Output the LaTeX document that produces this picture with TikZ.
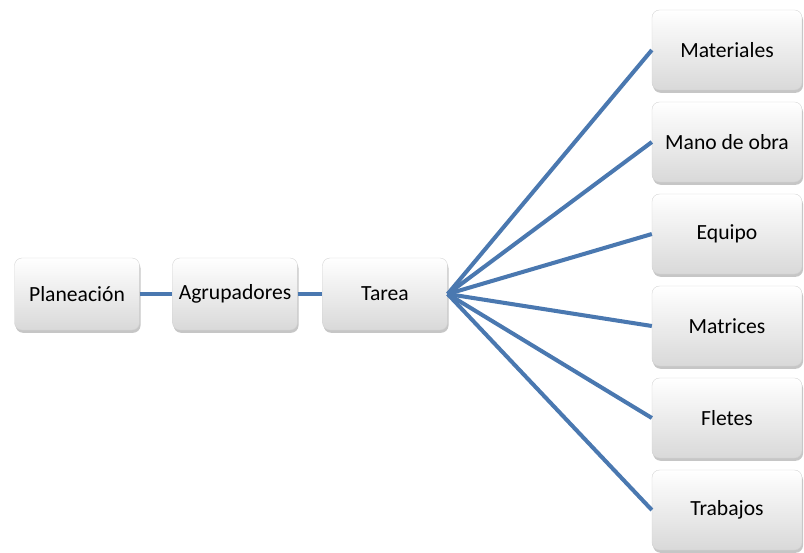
\documentclass[tikz,border=0pt]{standalone}
\usepackage{fontspec}
\setmainfont{Carlito}
\usepackage{tikz}
\usetikzlibrary{positioning,shadows,calc}

\definecolor{linkblue}{HTML}{4A78B0}

\begin{document}
\begin{tikzpicture}[
    x=0.02cm,
    y=-0.02cm,
    font=\fontsize{12.3}{14}\selectfont,
    box/.style={
        draw=gray!35,
        rounded corners=1.5mm,
        very thin,
        minimum width=2.5cm,
        minimum height=1.44cm,
        align=center,
        top color=white,
        bottom color=gray!30,
        drop shadow={shadow xshift=0.6pt, shadow yshift=-1.6pt, opacity=0.45}
    },
    item/.style={
        box,
        minimum width=3.0cm,
        minimum height=1.6cm
    },
    link/.style={draw=linkblue, line width=2.3pt}
]
\useasboundingbox (0,0) rectangle (804,552);

% main chain
\node[box] (plan) at (77,294) {Planeación};
\node[box] (agrup) at (235,294) {Agrupadores};
\node[box] (tarea) at (385,294) {Tarea};

% resources on the right
\node[item] (mat) at (727,50) {Materiales};
\node[item] (mano) at (727,142) {Mano de obra};
\node[item] (equipo) at (727,234) {Equipo};
\node[item] (matr) at (727,326) {Matrices};
\node[item] (fletes) at (727,418) {Fletes};
\node[item] (trab) at (727,510) {Trabajos};

\draw[link] (plan) -- (agrup);
\draw[link] (agrup) -- (tarea);

% fan out from the task
\foreach \n in {mat,mano,equipo,matr,fletes,trab}
    \draw[link] (tarea.east) -- (\n.west);

\end{tikzpicture}
\end{document}
